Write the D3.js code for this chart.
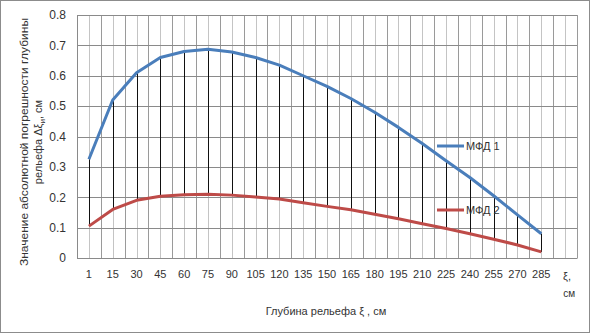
<!DOCTYPE html>
<meta charset="utf-8">
<script src="https://d3js.org/d3.v7.min.js"></script>
<style>
  body { margin: 0; background: #fff; }
  text { font-family: "Liberation Sans", "DejaVu Sans", sans-serif; fill: #333; }
</style>
<body>
<div id="chart"></div>
<script>

// depth categories, cm
var depths = ["1", "15", "30", "45", "60", "75", "90", "105", "120", "135", "150",
  "165", "180", "195", "210", "225", "240", "255", "270", "285"];
// extra empty slot at the end, holds the unit label
var categories = depths.concat(["unit"]);

var mfd1 = [0.325, 0.52, 0.61, 0.66, 0.68, 0.687, 0.678, 0.66, 0.635, 0.60, 0.565,
  0.525, 0.48, 0.43, 0.377, 0.32, 0.265, 0.205, 0.142, 0.08];
var mfd2 = [0.105, 0.16, 0.19, 0.203, 0.208, 0.21, 0.207, 0.201, 0.194, 0.182, 0.17,
  0.159, 0.144, 0.129, 0.113, 0.097, 0.08, 0.062, 0.043, 0.02];

var yTicks = [0, 0.1, 0.2, 0.3, 0.4, 0.5, 0.6, 0.7, 0.8];
var seriesNames = ["МФД 1", "МФД 2"];
var colors = ["#4a7ebb", "#be4b48"];

var W = 591, H = 334;
var margin = {top: 15, right: 14, bottom: 76, left: 77};
var width = W - margin.left - margin.right,
    height = H - margin.top - margin.bottom;

var svg = d3.select("#chart").append("svg")
  .attr("width", W)
  .attr("height", H);

// outer frame
svg.append("rect")
  .attr("x", 0.5).attr("y", 0.5)
  .attr("width", W - 2).attr("height", H - 2)
  .attr("fill", "#fff")
  .attr("stroke", "#8c8c8c");

var g = svg.append("g")
  .attr("transform", "translate(" + margin.left + "," + margin.top + ")");

var x = d3.scaleBand()
  .domain(categories)
  .range([0, width]);

var y = d3.scaleLinear()
  .domain([0, 0.8])
  .range([height, 0]);

var cx = function(i) { return x(categories[i]) + x.bandwidth() / 2; };

// vertical grid: light lines at category centres, darker at boundaries
g.append("g").selectAll("line")
  .data(categories)
  .enter().append("line")
  .attr("x1", function(d) { return Math.round(x(d) + x.bandwidth() / 2) + 0.5; })
  .attr("x2", function(d) { return Math.round(x(d) + x.bandwidth() / 2) + 0.5; })
  .attr("y1", 0).attr("y2", height)
  .attr("stroke", "#c4c4c4");

g.append("g").selectAll("line")
  .data(categories)
  .enter().append("line")
  .attr("x1", function(d) { return Math.round(x(d) + x.bandwidth()) + 0.5; })
  .attr("x2", function(d) { return Math.round(x(d) + x.bandwidth()) + 0.5; })
  .attr("y1", 0).attr("y2", height)
  .attr("stroke", "#9a9a9a");

// horizontal grid
g.append("g").selectAll("line")
  .data(yTicks)
  .enter().append("line")
  .attr("x1", 0).attr("x2", width)
  .attr("y1", function(d) { return Math.round(y(d)) + 0.5; })
  .attr("y2", function(d) { return Math.round(y(d)) + 0.5; })
  .attr("stroke", "#8a8a8a");

// y axis
var yAxis = g.append("g")
  .call(d3.axisLeft(y).tickValues(yTicks).tickSize(0).tickPadding(11)
    .tickFormat(function(d) { return d === 0 ? "0" : d3.format(".1f")(d); }));
yAxis.select(".domain").attr("stroke", "#8a8a8a");
yAxis.selectAll("text").style("font-size", "12px").attr("fill", "#333");

// x axis
var xAxis = g.append("g")
  .attr("transform", "translate(0," + height + ")")
  .call(d3.axisBottom(x).tickSize(0).tickPadding(12)
    .tickFormat(function(d) { return d === "unit" ? "" : d; }));
xAxis.select(".domain").attr("stroke", "#8a8a8a");
xAxis.selectAll("text").style("font-size", "11px").attr("fill", "#333");

// unit label in the last slot
var ux = x("unit") + x.bandwidth() / 2 + 2;
g.append("text").attr("x", ux).attr("y", height + 22)
  .attr("text-anchor", "middle").style("font-size", "11px").text("ξ,");
g.append("text").attr("x", ux + 2).attr("y", height + 39)
  .attr("text-anchor", "middle").style("font-size", "10px").text("см");

// high-low lines between the two series
g.append("g").selectAll("line")
  .data(depths)
  .enter().append("line")
  .attr("x1", function(d, i) { return Math.round(cx(i)) + 0.5; })
  .attr("x2", function(d, i) { return Math.round(cx(i)) + 0.5; })
  .attr("y1", function(d, i) { return y(mfd1[i]); })
  .attr("y2", function(d, i) { return y(mfd2[i]); })
  .attr("stroke", "#111");

// series lines
var line = d3.line()
  .x(function(d, i) { return cx(i); })
  .y(function(d) { return y(d); });

[mfd1, mfd2].forEach(function(s, k) {
  g.append("path")
    .datum(s)
    .attr("d", line)
    .attr("fill", "none")
    .attr("stroke", colors[k])
    .attr("stroke-width", 3)
    .attr("stroke-linejoin", "round");
});

// legend
var legendY = [146, 210];
seriesNames.forEach(function(name, k) {
  svg.append("line")
    .attr("x1", 437).attr("x2", 464)
    .attr("y1", legendY[k]).attr("y2", legendY[k])
    .attr("stroke", colors[k]).attr("stroke-width", 3);
  svg.append("text")
    .attr("x", 466).attr("y", legendY[k] + 4)
    .style("font-size", "11px")
    .text(name);
});

// axis titles
svg.append("text")
  .attr("x", 326).attr("y", 315)
  .attr("text-anchor", "middle")
  .style("font-size", "11px")
  .text("Глубина рельефа  ξ , см");

var yt = svg.append("g").attr("transform", "translate(0,142) rotate(-90)");
yt.append("text")
  .attr("x", 0).attr("y", 28)
  .attr("text-anchor", "middle")
  .style("font-size", "11px")
  .attr("textLength", 248).attr("lengthAdjust", "spacingAndGlyphs")
  .text("Значение абсолютной погрешности глубины");
var t2 = yt.append("text")
  .attr("x", 0).attr("y", 42)
  .attr("text-anchor", "middle")
  .style("font-size", "11px");
t2.append("tspan").text("рельефа  Δξ");
t2.append("tspan").attr("dy", 3).style("font-size", "8px").text("и");
t2.append("tspan").attr("dy", -3).text(", см");

</script>
</body>
